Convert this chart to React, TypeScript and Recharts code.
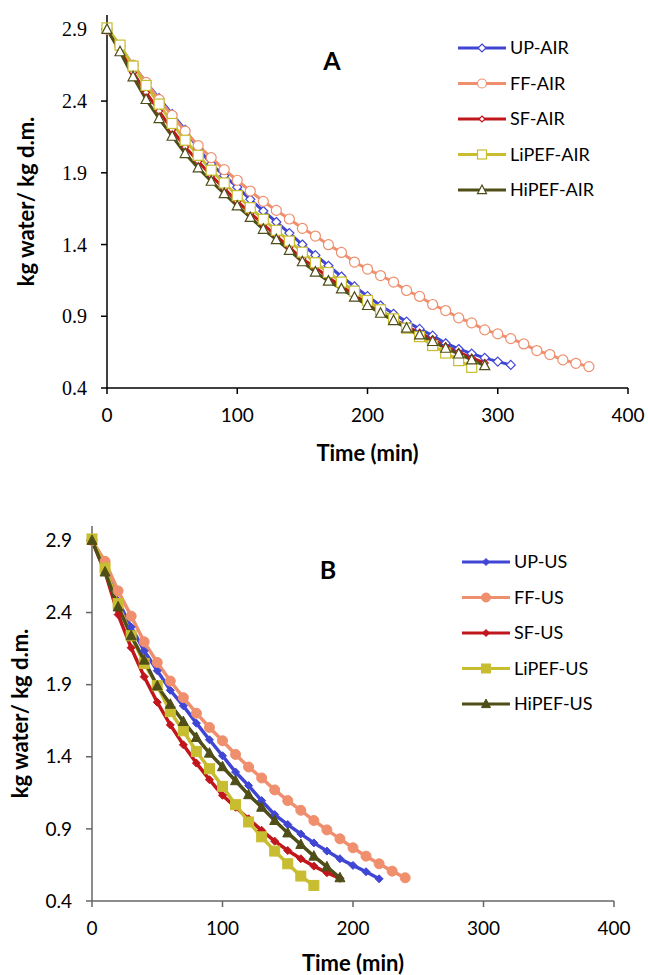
import React from 'react'
import { LineChart, Line, XAxis, YAxis } from 'recharts'

// drying curves, read every 10 min
const TIME_A = [0, 10, 20, 30, 40, 50, 60, 70, 80, 90, 100, 110, 120, 130, 140, 150, 160, 170, 180, 190, 200, 210, 220, 230, 240, 250, 260, 270, 280, 290, 300, 310, 320, 330, 340, 350, 360, 370]
const UP_AIR = [2.9, 2.78, 2.65, 2.53, 2.42, 2.31, 2.2, 2.07, 1.96, 1.88, 1.8, 1.715, 1.634, 1.557, 1.48, 1.4, 1.326, 1.252, 1.177, 1.108, 1.04, 0.975, 0.917, 0.863, 0.812, 0.765, 0.712, 0.672, 0.64, 0.61, 0.584, 0.561]
const FF_AIR = [2.9, 2.78, 2.65, 2.53, 2.41, 2.3, 2.19, 2.09, 2.006, 1.922, 1.848, 1.773, 1.701, 1.638, 1.578, 1.513, 1.459, 1.399, 1.345, 1.278, 1.229, 1.184, 1.138, 1.08, 1.038, 0.982, 0.94, 0.889, 0.854, 0.805, 0.777, 0.744, 0.707, 0.661, 0.633, 0.596, 0.572, 0.549]
const SF_AIR = [2.9, 2.76, 2.6, 2.46, 2.33, 2.2, 2.08, 1.98, 1.88, 1.79, 1.7, 1.62, 1.54, 1.46, 1.38, 1.3, 1.24, 1.17, 1.11, 1.05, 0.99, 0.94, 0.88, 0.83, 0.785, 0.74, 0.69, 0.65, 0.61, 0.575]
const LIPEF_AIR = [2.91, 2.79, 2.644, 2.509, 2.379, 2.244, 2.127, 2.022, 1.918, 1.829, 1.741, 1.657, 1.576, 1.499, 1.424, 1.347, 1.273, 1.205, 1.138, 1.075, 1.01, 0.945, 0.882, 0.817, 0.758, 0.696, 0.644, 0.591, 0.544]
const HIPEF_AIR = [2.9, 2.744, 2.569, 2.411, 2.278, 2.155, 2.034, 1.934, 1.841, 1.755, 1.669, 1.589, 1.506, 1.434, 1.36, 1.28, 1.208, 1.145, 1.091, 1.033, 0.975, 0.921, 0.87, 0.817, 0.77, 0.724, 0.677, 0.637, 0.596, 0.556]

const TIME_B = [0, 10, 20, 30, 40, 50, 60, 70, 80, 90, 100, 110, 120, 130, 140, 150, 160, 170, 180, 190, 200, 210, 220, 230, 240]
const UP_US = [2.9, 2.71, 2.48, 2.3, 2.135, 1.997, 1.861, 1.753, 1.633, 1.518, 1.407, 1.294, 1.2, 1.096, 0.999, 0.93, 0.865, 0.803, 0.746, 0.693, 0.647, 0.603, 0.554]
const FF_US = [2.9, 2.755, 2.55, 2.375, 2.197, 2.054, 1.925, 1.81, 1.702, 1.603, 1.511, 1.416, 1.329, 1.253, 1.17, 1.096, 1.029, 0.958, 0.893, 0.831, 0.769, 0.711, 0.658, 0.607, 0.561]
const SF_US = [2.9, 2.681, 2.386, 2.156, 1.955, 1.778, 1.621, 1.483, 1.356, 1.241, 1.133, 1.05, 0.97, 0.89, 0.815, 0.75, 0.693, 0.642, 0.596, 0.557]
const LIPEF_US = [2.91, 2.709, 2.462, 2.239, 2.047, 1.893, 1.713, 1.58, 1.437, 1.317, 1.195, 1.068, 0.948, 0.845, 0.746, 0.658, 0.573, 0.508]
const HIPEF_US = [2.9, 2.681, 2.439, 2.239, 2.07, 1.891, 1.764, 1.644, 1.534, 1.425, 1.331, 1.234, 1.137, 1.05, 0.958, 0.872, 0.792, 0.711, 0.637, 0.561]

const X_TICKS = [0, 100, 200, 300, 400]
const Y_TICKS = [0.4, 0.9, 1.4, 1.9, 2.4, 2.9]

const BLUE = '#4046d4'
const SALMON = '#ef8f6e'
const RED = '#c0161c'
const YELLOW = '#c8bd30'
const OLIVE = '#4f4e18'

const SANS = 'Lato, "Open Sans", sans-serif'
const SERIF = '"Liberation Serif", serif'

type Series = { key: string; name: string; color: string; shape: string; size: number; values: number[] }

const seriesA: Series[] = [
  { key: 'up', name: 'UP-AIR', color: BLUE, shape: 'diamond', size: 9, values: UP_AIR },
  { key: 'ff', name: 'FF-AIR', color: SALMON, shape: 'circle', size: 10, values: FF_AIR },
  { key: 'sf', name: 'SF-AIR', color: RED, shape: 'diamond', size: 7, values: SF_AIR },
  { key: 'li', name: 'LiPEF-AIR', color: YELLOW, shape: 'square', size: 10, values: LIPEF_AIR },
  { key: 'hi', name: 'HiPEF-AIR', color: OLIVE, shape: 'triangle', size: 10, values: HIPEF_AIR },
]

const seriesB: Series[] = [
  { key: 'up', name: 'UP-US', color: BLUE, shape: 'diamond', size: 8, values: UP_US },
  { key: 'ff', name: 'FF-US', color: SALMON, shape: 'circle', size: 10, values: FF_US },
  { key: 'sf', name: 'SF-US', color: RED, shape: 'diamond', size: 8, values: SF_US },
  { key: 'li', name: 'LiPEF-US', color: YELLOW, shape: 'square', size: 10, values: LIPEF_US },
  { key: 'hi', name: 'HiPEF-US', color: OLIVE, shape: 'triangle', size: 10, values: HIPEF_US },
]

function buildRows(times: number[], series: Series[]) {
  return times.map((t, i) => {
    const row: Record<string, number | undefined> = { t }
    series.forEach(s => { row[s.key] = s.values[i] })
    return row
  })
}

function Marker({ shape, cx, cy, size, color, hollow }: any) {
  const h = size / 2
  const fill = hollow ? '#fff' : color
  const common = { fill, stroke: color, strokeWidth: hollow ? 1.2 : 1 }
  if (shape === 'circle') return <circle cx={cx} cy={cy} r={h} {...common} />
  if (shape === 'square') return <rect x={cx - h} y={cy - h} width={size} height={size} {...common} />
  if (shape === 'triangle')
    return <polygon points={`${cx},${cy - h * 1.1} ${cx + h},${cy + h * 0.8} ${cx - h},${cy + h * 0.8}`} {...common} />
  return <polygon points={`${cx},${cy - h} ${cx + h},${cy} ${cx},${cy + h} ${cx - h},${cy}`} {...common} />
}

const makeDot = (s: Series, hollow: boolean) => (props: any) => {
  const { cx, cy, index, value } = props
  if (cx == null || cy == null || value == null) return <g key={index} />
  return <Marker key={index} shape={s.shape} cx={cx} cy={cy} size={s.size} color={s.color} hollow={hollow} />
}

// legend drawn straight into the svg so it does not shrink the plot
function LegendRows({ series, hollow, x, y, gap }: any) {
  return (
    <g>
      {series.map((s: Series, i: number) => {
        const yy = y + i * gap
        return (
          <g key={s.key}>
            <line x1={x} x2={x + 48} y1={yy} y2={yy} stroke={s.color} strokeWidth={3} />
            <Marker shape={s.shape} cx={x + 24} cy={yy} size={s.size - 1} color={s.color} hollow={hollow} />
            <text x={x + 52} y={yy} dy="0.36em" fontFamily={SANS} fontSize={18} fill="#000">{s.name}</text>
          </g>
        )
      })}
    </g>
  )
}

const yTick = (font: string, size: number) => (p: any) => (
  <text key={p.index} x={p.x} y={p.y} dy="0.35em" textAnchor="end" fontFamily={font} fontSize={size} fill="#000">
    {Number(p.payload.value).toFixed(1)}
  </text>
)

function Panel({ series, times, hollow, letter, yTickFont, yTickSize, axisColor, lineWidth, m, yWidth, xHeight, titleOffset, yTitleOffset, legendPos, letterPos, height }: any) {
  const rows = buildRows(times, series)
  return (
    <LineChart width={648} height={height} data={rows} margin={m}>
      <XAxis
        dataKey="t"
        type="number"
        domain={[0, 400]}
        ticks={X_TICKS}
        height={xHeight}
        stroke={axisColor}
        strokeWidth={1.5}
        tickSize={6}
        tickMargin={15}
        tick={{ fill: '#000', fontFamily: SANS, fontSize: 19 }}
        label={{ value: 'Time (min)', position: 'insideBottom', offset: titleOffset, fill: '#000', fontFamily: SANS, fontSize: 22, fontWeight: 700 }}
      />
      <YAxis
        type="number"
        domain={[0.4, 3.0]}
        ticks={Y_TICKS}
        width={yWidth}
        stroke={axisColor}
        strokeWidth={1.5}
        tickSize={6}
        tickMargin={14}
        tick={yTick(yTickFont, yTickSize)}
        allowDataOverflow
        label={{ value: 'kg water/ kg d.m.', angle: -90, position: 'insideLeft', offset: yTitleOffset, fill: '#000', fontFamily: SANS, fontSize: 22, fontWeight: 700, style: { textAnchor: 'middle' } }}
      />
      {series.map((s: Series) => (
        <Line
          key={s.key}
          dataKey={s.key}
          name={s.name}
          stroke={s.color}
          strokeWidth={lineWidth}
          dot={makeDot(s, hollow)}
          activeDot={false}
          isAnimationActive={false}
          connectNulls={false}
        />
      ))}
      <LegendRows series={series} hollow={hollow} x={legendPos[0]} y={legendPos[1]} gap={35.5} />
      <text x={letterPos[0]} y={letterPos[1]} textAnchor="middle" fontFamily={SANS} fontSize={25} fontWeight={700} fill="#000">{letter}</text>
    </LineChart>
  )
}

export default function App() {
  return (
    <div style={{ position: 'absolute', left: 0, top: 0, width: 648, height: 975, background: '#fff' }}>
      <div style={{ position: 'absolute', left: 0, top: 0 }}>
        <Panel
          series={seriesA}
          times={TIME_A}
          hollow
          letter="A"
          yTickFont={SERIF}
          yTickSize={20}
          axisColor="#000"
          lineWidth={3}
          height={480}
          m={{ top: 15, right: 20, bottom: 12, left: 10 }}
          yWidth={97}
          xHeight={80}
          titleOffset={7}
          yTitleOffset={16}
          legendPos={[458, 48]}
          letterPos={[332, 70]}
        />
      </div>
      <div style={{ position: 'absolute', left: 0, top: 490 }}>
        <Panel
          series={seriesB}
          times={TIME_B}
          hollow={false}
          letter="B"
          yTickFont={SANS}
          yTickSize={19}
          axisColor="#666"
          lineWidth={3.5}
          height={485}
          m={{ top: 36, right: 34, bottom: 4, left: 10 }}
          yWidth={82}
          xHeight={70}
          titleOffset={0}
          yTitleOffset={10}
          legendPos={[462, 72]}
          letterPos={[328, 89]}
        />
      </div>
    </div>
  )
}
